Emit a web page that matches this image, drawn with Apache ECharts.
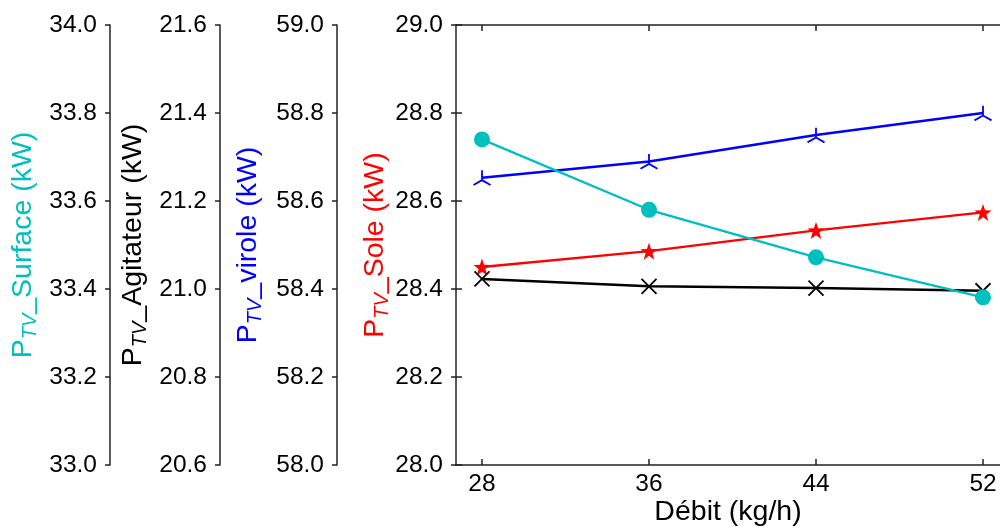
<!DOCTYPE html>
<html>
<head>
<meta charset="utf-8">
<script src="https://cdn.jsdelivr.net/npm/echarts@6/dist/echarts.min.js"></script>
<style>html,body{margin:0;padding:0;background:#fff;}#c{width:1000px;height:529px;}</style>
</head>
<body>
<div id="c"></div>
<script>
const debit = [28, 36, 44, 52];
const xTicks = [28, 36, 44, 52];
const sole = [28.450, 28.486, 28.533, 28.574];
const virole = [58.653, 58.690, 58.750, 58.800];
const agitateur = [21.023, 21.006, 21.002, 20.996];
const surface = [33.740, 33.580, 33.472, 33.381];

const FONT = 'Liberation Sans, Arial, sans-serif';
const AX = '#222';
const FS = 24.5;
const NFS = 28.5;

function pairs(ys){ return debit.map((x,i)=>[x, ys[i]]); }

function starPath(){
  let d = '';
  for (let i=0;i<10;i++){
    const r = i%2===0 ? 10 : 4;
    const a = -Math.PI/2 + i*Math.PI/5;
    d += (i===0?'M':'L') + (r*Math.cos(a)).toFixed(3) + ',' + (r*Math.sin(a)).toFixed(3) + ' ';
  }
  return 'path://' + d + 'Z';
}

function yAx(min, max, offset, nameParts, color, gap){
  return {
    type: 'value', position: 'left', offset: offset, min: min, max: max, interval: 0.2,
    name: '{p|P}{s|TV}{p|_' + nameParts + ' (kW)}',
    nameLocation: 'middle', nameRotate: 90, nameGap: gap, nameMoveOverlap: false,
    nameTextStyle: {
      fontFamily: FONT, color: color,
      rich: {
        p: {fontFamily: FONT, fontSize: NFS, color: color, lineHeight: 34, verticalAlign: 'middle'},
        s: {fontFamily: FONT, fontSize: 20, fontStyle: 'italic', color: color, lineHeight: 34, verticalAlign: 'bottom'}
      }
    },
    axisLine: {show: true, lineStyle: {color: AX, width: 1.5}},
    axisTick: {show: true, inside: false, length: 5, lineStyle: {color: AX, width: 1.5}},
    axisLabel: {fontFamily: FONT, fontSize: FS, color: '#000', margin: 13, formatter: v => v.toFixed(1)},
    splitLine: {show: false}
  };
}

const chart = echarts.init(document.getElementById('c'), null, {renderer: 'canvas'});
chart.setOption({
  animation: false,
  backgroundColor: '#fff',
  grid: {left: 456, top: 25, bottom: 64, right: 0, containLabel: false, outerBoundsMode: 'none'},
  xAxis: [{
    type: 'value', min: 26.755, max: 52.814, position: 'bottom',
    name: 'Débit (kg/h)', nameLocation: 'middle', nameGap: 33, nameMoveOverlap: false,
    nameTextStyle: {fontFamily: FONT, fontSize: NFS, color: '#000'},
    axisLine: {show: true, lineStyle: {color: AX, width: 1.5}},
    axisTick: {show: true, inside: true, length: 6, customValues: xTicks, lineStyle: {color: AX, width: 1.5}},
    axisLabel: {fontFamily: FONT, fontSize: FS, color: '#000', margin: 7, customValues: xTicks, formatter: v => String(v)},
    splitLine: {show: false}
  }, {
    type: 'value', min: 26.755, max: 52.814, position: 'top',
    axisLine: {show: true, lineStyle: {color: AX, width: 1.5}},
    axisTick: {show: true, inside: true, length: 6, customValues: xTicks, lineStyle: {color: AX, width: 1.5}},
    axisLabel: {show: false},
    splitLine: {show: false}
  }],
  yAxis: [
    yAx(28.0, 29.0, 0, 'Sole', '#ff0000', 64),
    yAx(58.0, 59.0, 119, 'virole', '#0000ff', 72),
    yAx(20.6, 21.6, 236, 'Agitateur', '#000000', 70),
    yAx(33.0, 34.0, 346, 'Surface', '#00bfbf', 70),
    {
      type: 'value', position: 'left', offset: 0, min: 28.0, max: 29.0, interval: 0.2,
      axisLine: {show: false}, axisLabel: {show: false}, splitLine: {show: false},
      axisTick: {show: true, inside: true, length: 6, lineStyle: {color: AX, width: 1.5}}
    }
  ],
  series: [
    {
      type: 'line', yAxisIndex: 0, data: pairs(sole), color: '#ff0000',
      lineStyle: {width: 2.3, color: '#ff0000'},
      symbol: starPath(), symbolSize: 17,
      itemStyle: {color: '#ff0000', borderWidth: 0},
      emphasis: {disabled: true}
    },
    {
      type: 'line', yAxisIndex: 1, data: pairs(virole), color: '#0000ff',
      lineStyle: {width: 2.5, color: '#0000ff'},
      symbol: 'path://M0,0 L0,-10 M0,0 L-8.66,5 M0,0 L8.66,5', symbolSize: 17, symbolKeepAspect: true,
      itemStyle: {color: 'none', borderColor: '#0000ff', borderWidth: 1.8},
      emphasis: {disabled: true}
    },
    {
      type: 'line', yAxisIndex: 2, data: pairs(agitateur), color: '#000000',
      lineStyle: {width: 2.5, color: '#000000'},
      symbol: 'path://M-1,-1 L1,1 M-1,1 L1,-1', symbolSize: 15,
      itemStyle: {color: 'none', borderColor: '#000000', borderWidth: 1.8},
      emphasis: {disabled: true}
    },
    {
      type: 'line', yAxisIndex: 3, data: pairs(surface), color: '#00bfbf',
      lineStyle: {width: 2.3, color: '#00bfbf'},
      symbol: 'circle', symbolSize: 16,
      itemStyle: {color: '#00bfbf', borderWidth: 0},
      emphasis: {disabled: true}
    }
  ]
});
</script>
</body>
</html>
